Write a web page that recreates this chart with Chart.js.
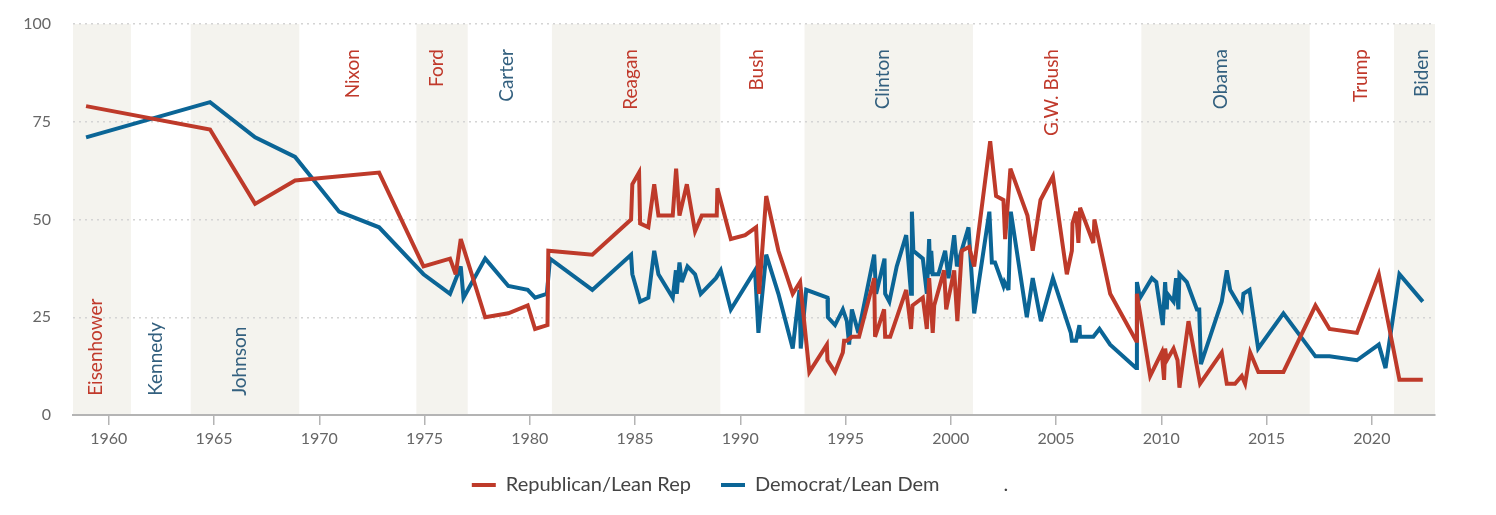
<!DOCTYPE html>
<html>
<head>
<meta charset="utf-8">
<script src="https://cdn.jsdelivr.net/npm/chart.js@4"></script>
<style>
  html, body { margin: 0; padding: 0; background: #fff; }
  #wrap { width: 1496px; height: 515px; }
</style>
</head>
<body>
<div id="wrap"><canvas id="trustChart"></canvas></div>
<script>
// Survey dates (decimal years) and shares
const repYears = [1958.92, 1964.81, 1966.95, 1968.85, 1972.84, 1974.95, 1976.21, 1976.48, 1976.72, 1977.88,
  1978.98, 1979.9, 1980.25, 1980.84, 1980.88, 1982.97, 1984.81, 1984.87, 1985.19, 1985.24,
  1985.63, 1985.91, 1986.11, 1986.79, 1986.95, 1987.11, 1987.46, 1987.85, 1988.17, 1988.88,
  1988.91, 1989.55, 1990.23, 1990.75, 1990.89, 1991.23, 1991.81, 1992.49, 1992.84, 1993.28,
  1994.11, 1994.14, 1994.5, 1994.87, 1994.93, 1995.06, 1995.3, 1995.64, 1996.36, 1996.4,
  1996.83, 1996.88, 1997.12, 1997.88, 1998.11, 1998.18, 1998.67, 1998.86, 1998.97, 1999.14,
  1999.21, 1999.68, 1999.78, 2000.16, 2000.31, 2000.52, 2000.87, 2001.11, 2001.87, 2002.07,
  2002.15, 2002.5, 2002.58, 2002.83, 2003.64, 2003.89, 2004.26, 2004.85, 2005.51, 2005.75,
  2005.78, 2005.95, 2006.06, 2006.14, 2006.77, 2006.82, 2007.57, 2008.8, 2008.84, 2009.47,
  2010.02, 2010.13, 2010.18, 2010.26, 2010.58, 2010.77, 2010.86, 2011.29, 2011.84, 2012.87,
  2013.11, 2013.5, 2013.82, 2013.98, 2014.22, 2014.61, 2015.8, 2017.32, 2017.99, 2019.29,
  2020.33, 2021.31, 2022.42];
const repValues = [79, 73, 54, 60, 62, 38, 40, 36, 45, 25,
  26, 28, 22, 23, 42, 41, 50, 59, 62, 49,
  48, 59, 51, 51, 63, 51, 59, 47, 51, 51,
  58, 45, 46, 48, 31, 56, 42, 31, 34, 11,
  18, 14, 11, 16, 19, 19, 20, 20, 35, 20,
  27, 20, 20, 32, 22, 28, 30, 22, 35, 21,
  28, 37, 27, 37, 24, 42, 43, 38, 70, 60,
  56, 55, 45, 63, 51, 42, 55, 61, 36, 42,
  49, 52, 44, 53, 44, 50, 31, 19, 31, 10,
  16, 9, 17, 14, 17, 14, 7, 24, 8, 16,
  8, 8, 10, 8, 16, 11, 11, 28, 22, 21,
  36, 9, 9];

const demYears = [1958.92, 1964.81, 1966.95, 1968.85, 1970.94, 1972.84, 1974.95, 1976.21, 1976.72, 1976.85,
  1977.88, 1978.98, 1979.9, 1980.25, 1980.81, 1980.96, 1982.97, 1984.81, 1984.87, 1985.24,
  1985.63, 1985.91, 1986.11, 1986.79, 1986.94, 1986.98, 1987.11, 1987.22, 1987.49, 1987.85,
  1988.12, 1988.84, 1989.07, 1989.55, 1990.7, 1990.86, 1991.23, 1991.81, 1992.49, 1992.81,
  1992.87, 1993.13, 1994.14, 1994.16, 1994.5, 1994.87, 1995.06, 1995.17, 1995.3, 1995.61,
  1996.36, 1996.45, 1996.85, 1996.88, 1997.08, 1997.43, 1997.88, 1998.11, 1998.15, 1998.22,
  1998.67, 1998.86, 1998.97, 1999.02, 1999.07, 1999.14, 1999.41, 1999.73, 1999.89, 2000.16,
  2000.29, 2000.84, 2001.11, 2001.83, 2001.95, 2002.1, 2002.5, 2002.55, 2002.74, 2002.85,
  2003.61, 2003.89, 2004.28, 2004.85, 2005.7, 2005.75, 2005.95, 2006.11, 2006.14, 2006.77,
  2007.06, 2007.57, 2008.8, 2008.84, 2008.99, 2009.55, 2009.76, 2010.07, 2010.18, 2010.26,
  2010.29, 2010.58, 2010.7, 2010.81, 2010.86, 2011.21, 2011.69, 2011.8, 2011.88, 2012.87,
  2013.11, 2013.27, 2013.82, 2013.9, 2014.19, 2014.6, 2015.8, 2017.32, 2017.99, 2019.29,
  2020.33, 2020.65, 2021.31, 2022.42];
const demValues = [71, 80, 71, 66, 52, 48, 36, 31, 38, 30,
  40, 33, 32, 30, 31, 40, 32, 41, 36, 29,
  30, 42, 36, 30, 37, 31, 39, 34, 38, 36,
  31, 35, 37, 27, 37, 21, 41, 31, 17, 32,
  17, 32, 30, 25, 23, 27, 24, 18, 27, 21,
  41, 31, 40, 31, 29, 38, 46, 31, 52, 42,
  40, 31, 45, 36, 42, 36, 36, 42, 35, 46,
  38, 48, 26, 52, 39, 39, 33, 34, 32, 52,
  25, 35, 24, 35, 21, 19, 19, 23, 20, 20,
  22, 18, 12, 34, 30, 35, 34, 23, 34, 27,
  31, 29, 35, 27, 36, 34, 27, 27, 13, 29,
  37, 32, 27, 31, 32, 17, 26, 15, 15, 14,
  18, 12, 36, 29];

// Presidencies: name, party, term start/end and where the name sits
const presidents = ["Eisenhower", "Kennedy", "Johnson", "Nixon", "Ford", "Carter", "Reagan",
  "Bush", "Clinton", "G.W. Bush", "Obama", "Trump", "Biden"];
const parties = ["R", "D", "D", "R", "R", "D", "R", "R", "D", "R", "D", "R", "D"];
const termStarts = [1953.05, 1961.05, 1963.89, 1969.05, 1974.61, 1977.05, 1981.05, 1989.05, 1993.05, 2001.05, 2009.05, 2017.05, 2021.05];
const termEnds = [1961.05, 1963.89, 1969.05, 1974.61, 1977.05, 1981.05, 1989.05, 1993.05, 2001.05, 2009.05, 2017.05, 2021.05, 2025.05];
const labelYears = [1959.4, 1962.25, 1966.24, 1971.61, 1975.6, 1978.92, 1984.81, 1990.8, 1996.79, 2004.79, 2012.84, 2019.49, 2022.39];

const yTicks = [0, 25, 50, 75, 100];

const RED = "#be3a2a";
const BLUE = "#0b6596";
const RED_LABEL = "#c0392b";
const BLUE_LABEL = "#33607f";
const SHADE = "#f4f3ee";

const toPoints = (xs, ys) => xs.map((x, i) => ({ x: x, y: ys[i] }));

// Shaded terms behind the grid, names rotated
const presidencyPlugin = {
  id: "presidencies",
  beforeDraw(chart) {
    const { ctx, chartArea, scales } = chart;
    const x = scales.x;
    ctx.save();
    ctx.fillStyle = SHADE;
    presidents.forEach((p, i) => {
      if (i % 2 !== 0) return;
      const x0 = Math.max(chartArea.left, x.getPixelForValue(termStarts[i]));
      const x1 = Math.min(chartArea.right, x.getPixelForValue(termEnds[i]));
      if (x1 > x0) ctx.fillRect(x0, chartArea.top, x1 - x0, chartArea.bottom - chartArea.top);
    });
    ctx.restore();
  },
  beforeDatasetsDraw(chart) {
    const { ctx, scales } = chart;
    const x = scales.x, y = scales.y;
    ctx.save();
    ctx.font = "19px Lato";
    ctx.textBaseline = "middle";
    presidents.forEach((p, i) => {
      const px = x.getPixelForValue(labelYears[i]);
      const atBottom = i < 3;
      ctx.save();
      ctx.translate(px, atBottom ? y.getPixelForValue(4.9) : y.getPixelForValue(93.6));
      ctx.rotate(-Math.PI / 2);
      ctx.fillStyle = parties[i] === "R" ? RED_LABEL : BLUE_LABEL;
      ctx.textAlign = atBottom ? "left" : "right";
      ctx.fillText(p, 0, 0);
      ctx.restore();
    });
    ctx.restore();
    // keep the sharp spikes from overshooting
    ctx.miterLimit = 4;
  }
};

Chart.defaults.font.family = "Lato";

new Chart(document.getElementById("trustChart"), {
  type: "line",
  data: {
    datasets: [
      {
        label: "Republican/Lean Rep",
        data: toPoints(repYears, repValues),
        borderColor: RED,
        backgroundColor: RED,
        borderWidth: 4,
        pointRadius: 0,
        tension: 0
      },
      {
        label: "Democrat/Lean Dem",
        data: toPoints(demYears, demValues),
        borderColor: BLUE,
        backgroundColor: BLUE,
        borderWidth: 4,
        pointRadius: 0,
        tension: 0
      },
      {
        label: ".",
        data: [],
        borderColor: "rgba(0,0,0,0)",
        backgroundColor: "rgba(0,0,0,0)",
        borderWidth: 0,
        pointRadius: 0
      }
    ]
  },
  options: {
    responsive: true,
    maintainAspectRatio: false,
    animation: false,
    layout: { padding: { top: 24, right: 16, bottom: 10, left: 0 } },
    plugins: {
      tooltip: { enabled: false },
      legend: {
        position: "bottom",
        labels: {
          color: "#444",
          font: { size: 20 },
          boxWidth: 24,
          boxHeight: 4,
          padding: 30,
          generateLabels(chart) {
            const items = Chart.defaults.plugins.legend.labels.generateLabels(chart);
            return items.map(it => Object.assign(it, { lineWidth: 0, fillStyle: it.strokeStyle }));
          }
        }
      }
    },
    scales: {
      x: {
        type: "linear",
        min: 1958.3,
        max: 2023.0,
        afterFit(scale) { scale.height = 30; },
        grid: { drawOnChartArea: false, drawTicks: true, tickLength: 10, color: "#b4b4b4", lineWidth: 1.5 },
        border: { display: true, color: "#b4b4b4", width: 2 },
        ticks: {
          stepSize: 5,
          includeBounds: false,
          maxTicksLimit: 20,
          autoSkip: false,
          maxRotation: 0,
          color: "#666",
          font: { size: 16 },
          padding: 4,
          callback: v => String(v)
        }
      },
      y: {
        min: 0,
        max: 100,
        afterFit(scale) {
          scale.width = 73;
          scale.paddingTop = 0;
          scale.paddingBottom = 0;
        },
        afterBuildTicks(scale) { scale.ticks = yTicks.map(v => ({ value: v })); },
        grid: { drawTicks: false, color: "#d4d4d4", lineWidth: 1.5 },
        border: { display: false, dash: [2, 4] },
        ticks: { color: "#666", font: { size: 16 }, padding: 22 }
      },
      yRight: {
        position: "right",
        display: true,
        afterFit(scale) { scale.width = 45; },
        grid: { display: false },
        border: { display: false },
        ticks: { display: false }
      }
    }
  },
  plugins: [presidencyPlugin]
});
</script>
</body>
</html>
